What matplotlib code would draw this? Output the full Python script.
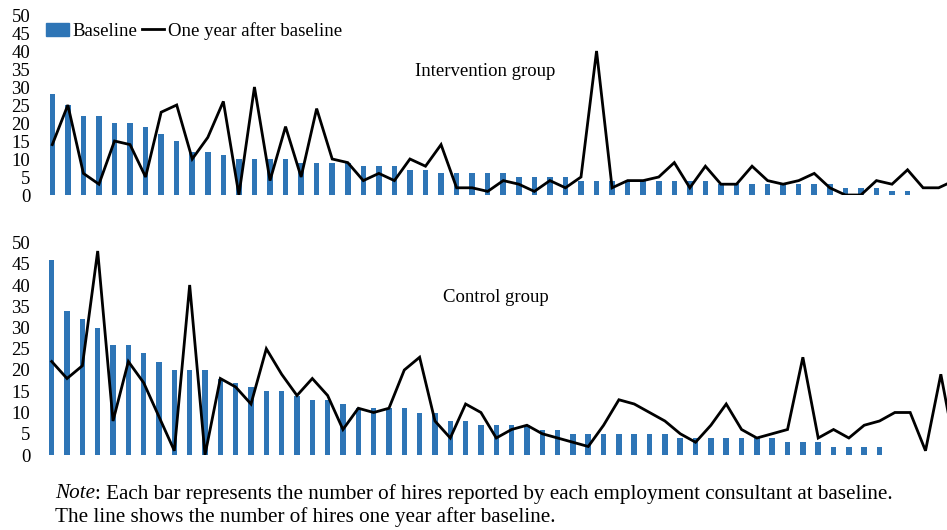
import matplotlib
matplotlib.use('Agg')
import matplotlib.pyplot as plt
import numpy as np

# Valores (contratos por consultor)
interv_baseline = [28, 25, 22, 22, 20, 20, 19, 17, 15, 12, 12, 11, 10, 10, 10, 10,
                   9, 9, 9, 9, 8, 8, 8, 7, 7, 6, 6, 6, 6, 6, 5, 5, 5, 5,
                   4, 4, 4, 4, 4, 4, 4, 4, 4, 3, 3, 3, 3, 3, 3, 3, 3,
                   2, 2, 2, 1, 1, 0, 0, 0]
interv_followup = [14, 25, 6, 3, 15, 14, 5, 23, 25, 10, 16, 26, 0, 30, 4, 19,
                   5, 24, 10, 9, 4, 6, 4, 10, 8, 14, 2, 2, 1, 4, 3, 1, 4, 2,
                   5, 40, 2, 4, 4, 5, 9, 2, 8, 3, 3, 8, 4, 3, 4, 6, 2,
                   0, 0, 4, 3, 7, 2, 2, 4]

control_baseline = [46, 34, 32, 30, 26, 26, 24, 22, 20, 20, 20, 18, 17, 16, 15, 15,
                    14, 13, 13, 12, 11, 11, 11, 11, 10, 10, 8, 8, 7, 7, 7, 7, 6, 6,
                    5, 5, 5, 5, 5, 5, 5, 4, 4, 4, 4, 4, 4, 4, 3, 3, 3,
                    2, 2, 2, 2, 0, 0, 0, 0, 0]
control_followup = [22, 18, 21, 48, 8, 22, 17, 9, 1, 40, 0, 18, 16, 12, 25, 19,
                    14, 18, 14, 6, 11, 10, 11, 20, 23, 8, 4, 12, 10, 4, 6, 7, 5, 4,
                    3, 2, 7, 13, 12, 10, 8, 5, 3, 7, 12, 6, 4, 5, 6, 23, 4,
                    6, 4, 7, 8, 10, 10, 1, 19, 0]

yticks = list(range(0, 51, 5))

plt.rcParams['font.family'] = ['Liberation Serif', 'DejaVu Serif']

BAR_COLOR = '#2e75b6'
FS = 13.5       # texto del grafico
NOTE_FS = 15.2  # nota al pie
W, H = 947, 530
fig = plt.figure(figsize=(W / 100, H / 100), dpi=100)


def px_axes(left, top, right, bottom):
    return fig.add_axes([left / W, 1 - bottom / H, (right - left) / W, (bottom - top) / H])


def draw_panel(ax, baseline, followup, first_px, step_px, label, label_xy):
    x_b = np.arange(len(baseline))
    x_f = np.arange(len(followup))
    ax.bar(x_b, baseline, width=0.36, color=BAR_COLOR, zorder=2)
    ax.plot(x_f, followup, color='black', lw=2.0, zorder=3,
            solid_joinstyle='miter')
    left_px = 40
    x0 = -(first_px - left_px) / step_px
    ax.set_xlim(x0, x0 + (W - left_px) / step_px)
    ax.set_ylim(0, 50)
    ax.set_yticks(yticks)
    ax.tick_params(axis='y', length=0, pad=7, labelsize=FS)
    ax.set_xticks([])
    for s in ax.spines.values():
        s.set_visible(False)
    fig.text(label_xy[0] / W, 1 - label_xy[1] / H, label, ha='center', va='center',
             fontsize=FS)


ax1 = px_axes(40, 15, W, 195)
draw_panel(ax1, interv_baseline, interv_followup, 52.3, 15.55,
           'Intervention group', (485, 72))

ax2 = px_axes(40, 242.5, W, 455)
draw_panel(ax2, control_baseline, control_followup, 51.7, 15.33,
           'Control group', (496, 297))

# Leyenda
from matplotlib.patches import Patch
from matplotlib.lines import Line2D
handles = [Patch(color=BAR_COLOR), Line2D([0], [0], color='black', lw=2.0)]
ax1.legend(handles, ['Baseline', 'One year after baseline'], ncol=2,
           loc='center left', bbox_to_anchor=(6 / 907, (195 - 31) / 180),
           frameon=False, fontsize=FS, borderpad=0, borderaxespad=0,
           handlelength=1.2, handleheight=0.7, handletextpad=0.2,
           columnspacing=0.25)

# Nota al pie
fig.canvas.draw()
renderer = fig.canvas.get_renderer()
t = fig.text(55 / W, 1 - 494 / H, 'Note', fontstyle='italic', fontsize=NOTE_FS,
             ha='left', va='center')
bb = t.get_window_extent(renderer)
fig.text(bb.x1 / W, 1 - 494 / H,
         ': Each bar represents the number of hires reported by each employment consultant at baseline.',
         fontsize=NOTE_FS, ha='left', va='center')
fig.text(55 / W, 1 - 517 / H,
         'The line shows the number of hires one year after baseline.',
         fontsize=NOTE_FS, ha='left', va='center')

fig.savefig('out.png', dpi=100)
